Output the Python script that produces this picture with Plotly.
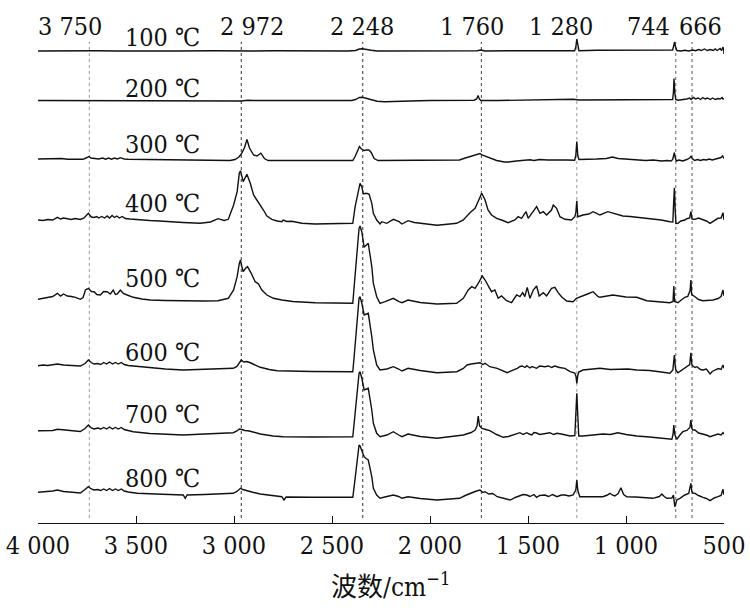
import plotly.graph_objects as go

# ---------------- data (wavenumber cm-1, relative intensity) ----------------
TEMPS = ["100 ℃", "200 ℃", "300 ℃", "400 ℃", "500 ℃", "600 ℃", "700 ℃", "800 ℃"]

S100 = [(4000,0),(3900,0.3),(3800,0),(3700,0.3),(3600,0),(3500,0.2),(3300,0),(3100,0.2),(3000,0),(2963,-0.5),
        (2900,0),(2800,0.3),(2600,0),(2420,0),(2380,0.5),(2360,2),(2345,2.2),(2330,1.5),(2300,0.8),(2270,0),
        (2100,0.2),(1900,0),(1760,0.3),(1740,1),(1720,0),(1600,0.3),(1500,0.5),(1400,0.8),(1300,0.3),(1262,0.3),
        (1256,4),(1251,12),(1246,4),(1240,0.2),(1150,0.8),(1050,0.8),(950,0.3),(850,1),(780,0.3),(762,1),
        (757,5),(752,9),(747,4),(740,0.5),(720,0),(700,0.8),(680,0),(660,1),(645,0.3),(630,1.5),(615,0.5),
        (600,2),(585,0.5),(570,1.5),(555,0.5),(545,2),(535,0.5),(520,2.5),(512,0.5),(506,3.5),(502,3),(500,-3)]

S200 = [(4000,0),(3800,0),(3600,0.2),(3400,0),(3200,0),(3000,0),(2963,-0.5),(2930,0.3),(2900,0),(2700,0),
        (2400,0),(2380,1),(2360,3),(2345,3.2),(2330,2.5),(2300,0.5),(2270,-0.8),(2230,-1.2),(2190,-0.8),(2100,-0.5),
        (2000,0),(1850,0),(1775,0.3),(1762,1.5),(1755,5),(1748,1.5),(1740,0),(1650,0),(1500,0.3),(1350,0.8),
        (1270,1.3),(1240,0.5),(1150,0.5),(1000,0.5),(900,0.5),(800,0.8),(770,0.3),(762,1),(758,8),(755,22),
        (751,8),(746,1),(735,0.3),(710,0.8),(690,1.5),(675,2.5),(668,1),(655,3),(645,1.5),(632,2.5),(620,1),
        (608,3),(596,1.5),(585,2.5),(570,1),(558,2.5),(545,1),(532,2),(520,1.5),(510,3),(505,1.5),(500,2)]

S300 = [(4000,1.5),(3950,1.8),(3920,1.3),(3880,2),(3850,1.3),(3800,1.5),(3770,1.2),(3750,3),(3740,4),(3730,2.5),
        (3710,2),(3690,1.5),(3670,2.5),(3655,1.3),(3640,2.5),(3625,1.3),(3610,2.5),(3595,1.5),(3580,2.8),(3560,1.5),
        (3540,1.3),(3500,1.2),(3400,0.8),(3300,0.5),(3200,0),(3100,-0.3),(3050,0),(3020,0),(2995,1),(2975,3.5),
        (2963,6.5),(2946,13),(2934,21),(2921,12.5),(2900,5.5),(2883,4.5),(2863,7.3),(2845,2),(2826,0),(2780,0),
        (2700,0),(2600,0),(2500,0),(2394,0),(2382,4),(2370,10),(2360,14),(2350,11.5),(2336,10),(2325,10.5),
        (2312,10.5),(2300,8),(2285,2),(2265,0),(2200,0),(2100,0),(2000,0),(1900,0),(1850,0.5),(1820,2.5),
        (1790,4.5),(1760,6),(1745,7),(1735,5.5),(1715,4),(1690,2),(1660,0),(1620,-1.5),(1600,-1.5),(1560,-0.5),
        (1520,0),(1490,0.8),(1470,0),(1440,1),(1400,0.5),(1350,0.8),(1300,0.5),(1262,0.3),(1256,5),(1251,19),
        (1246,5),(1240,1),(1200,1),(1150,1.5),(1100,2),(1070,3.5),(1040,2),(1000,1.5),(950,1),(900,0),
        (860,0.5),(820,-0.5),(790,0),(770,-0.5),(762,1),(757,4),(753,8),(749,3),(743,-0.5),(730,0.5),
        (710,-0.5),(690,1),(675,2.5),(669,4.5),(662,2),(650,0),(635,1),(620,0),(605,1),(590,0.5),(575,1.5),
        (560,0.5),(545,1.5),(530,2),(515,3),(507,4.5),(503,3),(500,2)]

S400 = [(4000,3),(3975,2.5),(3950,3.5),(3925,3),(3901,5.7),(3885,4),(3870,5),(3850,4),(3830,3.5),(3810,4.5),
        (3784,3.5),(3765,5),(3743,9.7),(3728,6),(3714,5.5),(3700,6.5),(3690,5),(3675,6.5),(3660,5),(3647,7),
        (3635,5),(3622,7.5),(3610,5.5),(3598,7),(3585,5),(3570,6.5),(3555,4.5),(3530,4),(3514,3.7),(3480,3),
        (3430,2.5),(3380,2),(3340,1.3),(3260,0.5),(3172,-0.3),(3120,1),(3081,4.3),(3050,2.5),(3029,3.7),(3019,9.7),
        (3002,18),(2984,31.3),(2973,49.7),(2967,52.3),(2960,46),(2953,41.3),(2944,45),(2934,48.7),(2925,44),(2917,39.7),
        (2900,28),(2883,23),(2866,19),(2850,13),(2832,7),(2807,3.7),(2780,2),(2756,1.3),(2749,3),(2730,1.5),
        (2705,1.7),(2654,-0.3),(2586,-1),(2500,-1),(2394,-0.3),(2382,16.3),(2365,34.7),(2357,39.7),(2348,36.3),(2340,29),
        (2326,29.7),(2311,29),(2297,19.7),(2289,9.7),(2272,3),(2255,-1),(2246,1.3),(2221,-0.3),(2187,3.7),(2158,1.3),
        (2143,-1),(2112,2.3),(2080,0.5),(2051,-0.3),(2000,-1.5),(1964,-2.3),(1900,-1),(1864,-0.3),(1830,3),(1796,10.3),
        (1770,14.7),(1754,21.3),(1736,29.7),(1719,23),(1704,13),(1686,8),(1660,4.7),(1635,3),(1601,0.3),(1567,3),
        (1550,6.3),(1533,4.7),(1510,11.3),(1499,4.7),(1473,11.3),(1456,16.3),(1439,9.7),(1422,11.3),(1405,8),(1380,13),
        (1371,18),(1354,14.7),(1337,6.3),(1312,3.7),(1278,3),(1261,6.3),(1256,10),(1251,22.3),(1246,6.3),(1219,8),
        (1190,9),(1168,11.3),(1150,9.7),(1133,8),(1093,11.3),(1050,9),(1016,7),(980,6.5),(945,5.7),(900,5),
        (863,4.3),(820,3),(776,1.3),(761,1),(757,20),(753,35.3),(749,12),(745,-0.5),(735,-0.3),(720,2),
        (700,3),(690,4.3),(675,5),(669,11.3),(663,4),(648,3.7),(630,5),(607,3.7),(590,2),(571,-0.3),
        (550,2),(531,4.7),(515,5),(505,10.3),(500,3)]

S500 = [(4000,3.2),(3975,4),(3950,5.5),(3925,6),(3901,9.2),(3885,6.5),(3870,8.5),(3850,6.5),(3830,6),(3809,5.2),
        (3784,3.2),(3770,5),(3758,12.5),(3743,14.2),(3728,11),(3714,10.8),(3700,8),(3682,7.5),(3665,11),(3647,10.8),
        (3631,8.5),(3616,12.5),(3605,8),(3595,8.5),(3580,12.5),(3565,9.2),(3545,7.5),(3530,6),(3514,5.2),(3470,3.5),
        (3427,2.5),(3350,2),(3259,1.5),(3160,1.5),(3081,1.8),(3029,4.2),(3002,12.5),(2984,25.8),(2973,39.2),(2967,42.5),
        (2960,36),(2953,30.8),(2942,34),(2931,35.8),(2912,29.2),(2892,20.8),(2875,18.5),(2858,12.5),(2832,7.5),(2799,4.2),
        (2756,2.5),(2700,1),(2586,-0.2),(2500,-0.5),(2394,-0.8),(2387,15.8),(2374,49.2),(2362,74.2),(2357,76.5),(2348,70.8),
        (2336,55.2),(2326,57),(2315,59.2),(2297,35.8),(2289,19.2),(2272,5.8),(2255,-0.8),(2229,0.8),(2187,4.2),(2158,0.8),
        (2143,-0.2),(2112,2.5),(2050,0),(1964,-1.5),(1900,-1),(1864,-0.8),(1830,4.2),(1805,12.5),(1787,15.8),(1770,14.2),
        (1754,19.2),(1733,26.5),(1719,22.5),(1704,17.5),(1686,10.8),(1669,12.5),(1652,4.2),(1635,6.5),(1609,1.8),(1584,-0.2),
        (1558,7.5),(1541,5.8),(1527,9.8),(1516,5.8),(1504,15.2),(1490,4.2),(1473,12.5),(1456,16.5),(1443,6.5),(1422,9.8),
        (1405,6.5),(1380,14.2),(1363,15.2),(1346,9.8),(1329,5.8),(1303,1.5),(1270,0.8),(1253,4.2),(1219,6.5),(1190,9),
        (1168,10.8),(1142,5.8),(1133,5.2),(1100,6.5),(1067,7.5),(1000,5.5),(945,5.2),(894,1.8),(850,1),(776,-0.2),
        (760,1),(756,16.5),(752,1),(735,-0.2),(715,3),(700,5.2),(685,6),(673,12),(669,22.5),(665,8),
        (648,5.8),(630,3),(607,1.8),(580,2),(556,2.5),(530,4),(515,6),(505,12.5),(500,6.5)]

S600 = [(4000,4.8),(3975,5.5),(3950,5),(3925,6),(3901,6.5),(3870,5.5),(3840,5),(3810,5),(3784,4.5),(3760,7),
        (3743,10.5),(3728,8),(3714,6.5),(3695,7),(3680,6),(3665,8),(3650,6.5),(3635,8.5),(3620,6.5),(3605,8),
        (3590,6.5),(3575,8),(3560,6),(3540,5),(3514,4.5),(3430,2.5),(3350,1.5),(3259,0.5),(3150,1),(3050,1.5),
        (3004,2.2),(2985,4),(2970,8),(2963,10.5),(2950,8.5),(2935,9),(2920,8),(2900,6),(2866,3.2),(2820,1),
        (2780,-0.2),(2600,-1),(2394,-1.2),(2387,13.8),(2374,43.8),(2362,72.2),(2357,73.8),(2348,67.5),(2336,55.5),(2326,56),
        (2315,57.2),(2297,33.8),(2289,20.5),(2272,5.5),(2255,0.5),(2220,1.5),(2187,3.8),(2160,1.5),(2143,-0.5),(2112,2.2),
        (2050,0),(1964,-2.2),(1863,-1.2),(1830,2),(1811,5.5),(1790,6.5),(1770,7.2),(1745,7.8),(1730,6),(1719,7.2),
        (1695,3.8),(1657,2.2),(1606,-2.2),(1575,0),(1555,2.2),(1540,4),(1530,4.5),(1515,3),(1506,4.8),(1490,2.5),
        (1480,4),(1456,2.2),(1440,4.5),(1414,3.8),(1395,4.5),(1380,3),(1363,4.5),(1340,3),(1312,2.2),(1285,-1.2),
        (1261,-2.5),(1255,-6),(1251,-12.8),(1246,-5),(1241,-1.5),(1220,0.5),(1180,1.5),(1133,2.2),(1080,1),(1032,1.2),
        (990,1.5),(945,0.5),(880,0),(820,-1.5),(776,-2.8),(761,0.5),(757,8),(753,15.5),(749,5),(746,0.5),
        (735,-2.2),(720,0),(705,2),(690,3.8),(675,6),(669,17.8),(664,6),(659,4.5),(648,3),(638,3.8),
        (620,1),(607,0.5),(590,1.5),(571,-3.5),(560,-1),(546,0.5),(530,2),(515,1),(505,5.5),(500,2.2)]

S700 = [(4000,5.8),(3975,6),(3950,6.5),(3925,6),(3901,7.2),(3870,6.5),(3840,6),(3810,5.5),(3784,5),(3760,8),
        (3743,11.5),(3728,8.5),(3714,7.5),(3695,8.5),(3680,7.5),(3665,9),(3650,7.5),(3635,9.5),(3620,7.5),(3605,9),
        (3590,7.5),(3575,9),(3560,7),(3540,6),(3514,4.8),(3430,3),(3340,2),(3259,1.5),(3150,2.5),(3050,3),
        (3004,3.8),(2985,5.5),(2973,7.5),(2960,7),(2945,6),(2928,5.8),(2900,4.5),(2866,2.5),(2800,0.5),(2749,-0.2),
        (2600,-0.5),(2394,-0.2),(2387,13.2),(2374,39.8),(2362,63.2),(2357,64.8),(2348,58.5),(2336,46.5),(2326,47),(2315,48.2),
        (2297,26.5),(2289,13.2),(2272,3.2),(2255,-0.2),(2220,1.5),(2187,4.8),(2160,1.5),(2143,-0.2),(2112,2.5),(2050,0),
        (1964,-1.8),(1900,-0.5),(1830,1.5),(1790,4),(1770,6.5),(1760,10.5),(1754,20.5),(1747,10.5),(1735,8.2),(1715,7),
        (1695,5.8),(1660,2),(1626,-0.8),(1600,0),(1575,1.5),(1555,2.5),(1541,3.8),(1525,2),(1506,3.8),(1495,2.5),
        (1480,1.5),(1470,4),(1456,3.5),(1440,2),(1423,2.5),(1405,3.5),(1388,3.8),(1370,2),(1352,3.2),(1330,2.5),
        (1312,1.5),(1285,0.5),(1261,1),(1256,21.5),(1251,43.2),(1246,21.5),(1241,0.5),(1220,0.5),(1160,1.5),(1118,2.5),
        (1080,2),(1042,3.8),(1000,2),(945,0.5),(880,-0.5),(811,-1.8),(766,-2.8),(760,2),(756,11.5),(751,2),
        (746,-1.5),(741,-2.8),(725,1.5),(710,4.8),(690,6),(674,9),(669,16.5),(664,8),(659,6.5),(648,6.5),
        (630,3.5),(607,2.5),(590,1.5),(571,-0.2),(550,1),(531,2.5),(515,1.5),(505,3.8),(500,2.5)]

S800 = [(4000,5.2),(3975,5.5),(3950,6),(3925,6.5),(3901,7.5),(3870,6),(3840,5.5),(3810,5),(3784,4.5),(3760,8),
        (3743,10.8),(3728,8.5),(3714,7.5),(3695,8),(3680,7),(3665,8.5),(3650,7),(3635,9),(3620,7),(3605,8.5),
        (3590,7),(3575,8.5),(3560,6.5),(3540,5.5),(3493,4.2),(3400,3.5),(3320,3),(3259,2.5),(3249,-0.8),(3239,2.5),
        (3150,3),(3050,3.5),(3004,4.2),(2985,6),(2967,9.2),(2955,8),(2940,7),(2928,6.8),(2900,5),(2866,3.5),
        (2800,1.5),(2756,0.8),(2745,-2.5),(2734,0.5),(2600,0.3),(2394,0.2),(2387,10.8),(2374,34.2),(2362,52.5),(2357,51.5),
        (2348,46),(2336,40.8),(2326,39),(2315,37.5),(2297,20.8),(2289,9.2),(2272,2.5),(2255,-0.8),(2220,1),(2187,2.5),
        (2160,1),(2143,-0.8),(2112,0.8),(2050,-1),(1964,-2.5),(1900,-1.5),(1849,-0.8),(1820,2),(1796,4.2),(1770,6),
        (1745,7.5),(1730,5),(1719,5.8),(1700,3.5),(1680,4),(1657,0.8),(1620,-1),(1590,-2.5),(1565,0),(1541,1.5),
        (1525,3),(1506,2.5),(1490,1),(1470,3),(1456,0.2),(1440,2),(1414,2.5),(1395,1),(1375,3),(1352,0.8),
        (1330,2.5),(1312,2.5),(1290,1.5),(1270,2.5),(1256,7.5),(1251,17.5),(1246,7.5),(1236,0.8),(1180,1),(1118,0.8),
        (1095,2.5),(1082,4.2),(1070,2.5),(1057,1.5),(1040,4),(1026,9.8),(1012,3),(996,0.8),(950,0.5),(900,0),
        (863,-0.8),(830,1),(817,3.5),(805,1),(792,-0.8),(766,-0.5),(758,2.5),(751,-9.2),(746,-4),(741,-2.5),
        (725,-0.8),(700,2.5),(680,4),(669,14.2),(664,6),(659,4.5),(648,4.2),(630,2),(607,0.2),(590,-1),
        (571,-3.2),(550,-0.5),(531,0.8),(515,2),(505,8.2),(500,2.5)]

SPECTRA = [S100, S200, S300, S400, S500, S600, S700, S800]
# vertical stacking offsets of each spectrum
OFFSETS = [472, 422.5, 362.5, 300, 220.5, 152.5, 86.5, 25.5]

PEAK_LINES = [3738, 2963, 2343, 1738, 1251, 746, 663]
PEAK_LABELS = ["3 750", "2 972", "2 248", "1 760", "1 280", "744", "666"]

TICK_VALS = [4000, 3500, 3000, 2500, 2000, 1500, 1000, 500]
TICK_TEXT = ["4 000", "3 500", "3 000", "2 500", "2 000", "1 500", "1 000", "500"]

# ---------------- figure ----------------
FONT = "DejaVu Serif Condensed, DejaVu Serif, Noto Sans CJK SC"
FS = 25
def fnt(size=FS):
    return dict(family=FONT, size=size, color="#111111")

fig = go.Figure()

for spec, off in zip(SPECTRA, OFFSETS):
    xs = [p[0] for p in spec]
    ys = [p[1] + off for p in spec]
    fig.add_trace(go.Scatter(x=xs, y=ys, mode="lines",
                             line=dict(color="#111111", width=1.4),
                             showlegend=False, hoverinfo="skip"))

line_colors = ["#9a9a9a", "#333333", "#333333", "#444444", "#9a9a9a", "#666666", "#555555"]
for xv, c in zip(PEAK_LINES, line_colors):
    fig.add_shape(type="line", xref="x", yref="y", x0=xv, x1=xv, y0=5, y1=481,
                  line=dict(color=c, width=1, dash="dot"), layer="below")

label_x = [3835, 2907, 2347, 1786, 1332, 884, 619]
for xv, t in zip(label_x, PEAK_LABELS):
    fig.add_annotation(x=xv, y=1.007, xref="x", yref="paper", text=t, showarrow=False,
                       xanchor="center", yanchor="middle", font=fnt())

temp_y = [486, 435, 379, 319.5, 245, 171, 109, 44.5]
for t, yv in zip(TEMPS, temp_y):
    fig.add_annotation(x=3565, y=yv, xref="x", yref="y", text=t, showarrow=False,
                       xanchor="left", yanchor="middle", font=fnt())

fig.add_annotation(x=2204, y=-0.126, xref="x", yref="paper", text="波数/cm<sup>−1</sup>",
                   showarrow=False, xanchor="center", yanchor="middle", font=fnt(26))

fig.update_layout(
    width=750, height=612,
    margin=dict(l=38, r=26, t=30, b=89),
    paper_bgcolor="white", plot_bgcolor="white",
    xaxis=dict(range=[4000, 500], tickvals=TICK_VALS, ticktext=TICK_TEXT,
               showline=True, linecolor="#111111", linewidth=1,
               ticks="inside", ticklen=7, tickcolor="#111111", tickwidth=1,
               showgrid=False, zeroline=False, automargin=False,
               ticklabeloverflow="allow",
               tickfont=fnt()),
    yaxis=dict(range=[0, 493], visible=False, showgrid=False, zeroline=False,
               automargin=False),
)

# remove the browser's default 8 px page margin so the figure fills the window
fig.write_html("out.html",
               config={"displayModeBar": False, "staticPlot": True},
               post_script="document.body.style.margin='0';document.body.style.overflow='hidden';")
